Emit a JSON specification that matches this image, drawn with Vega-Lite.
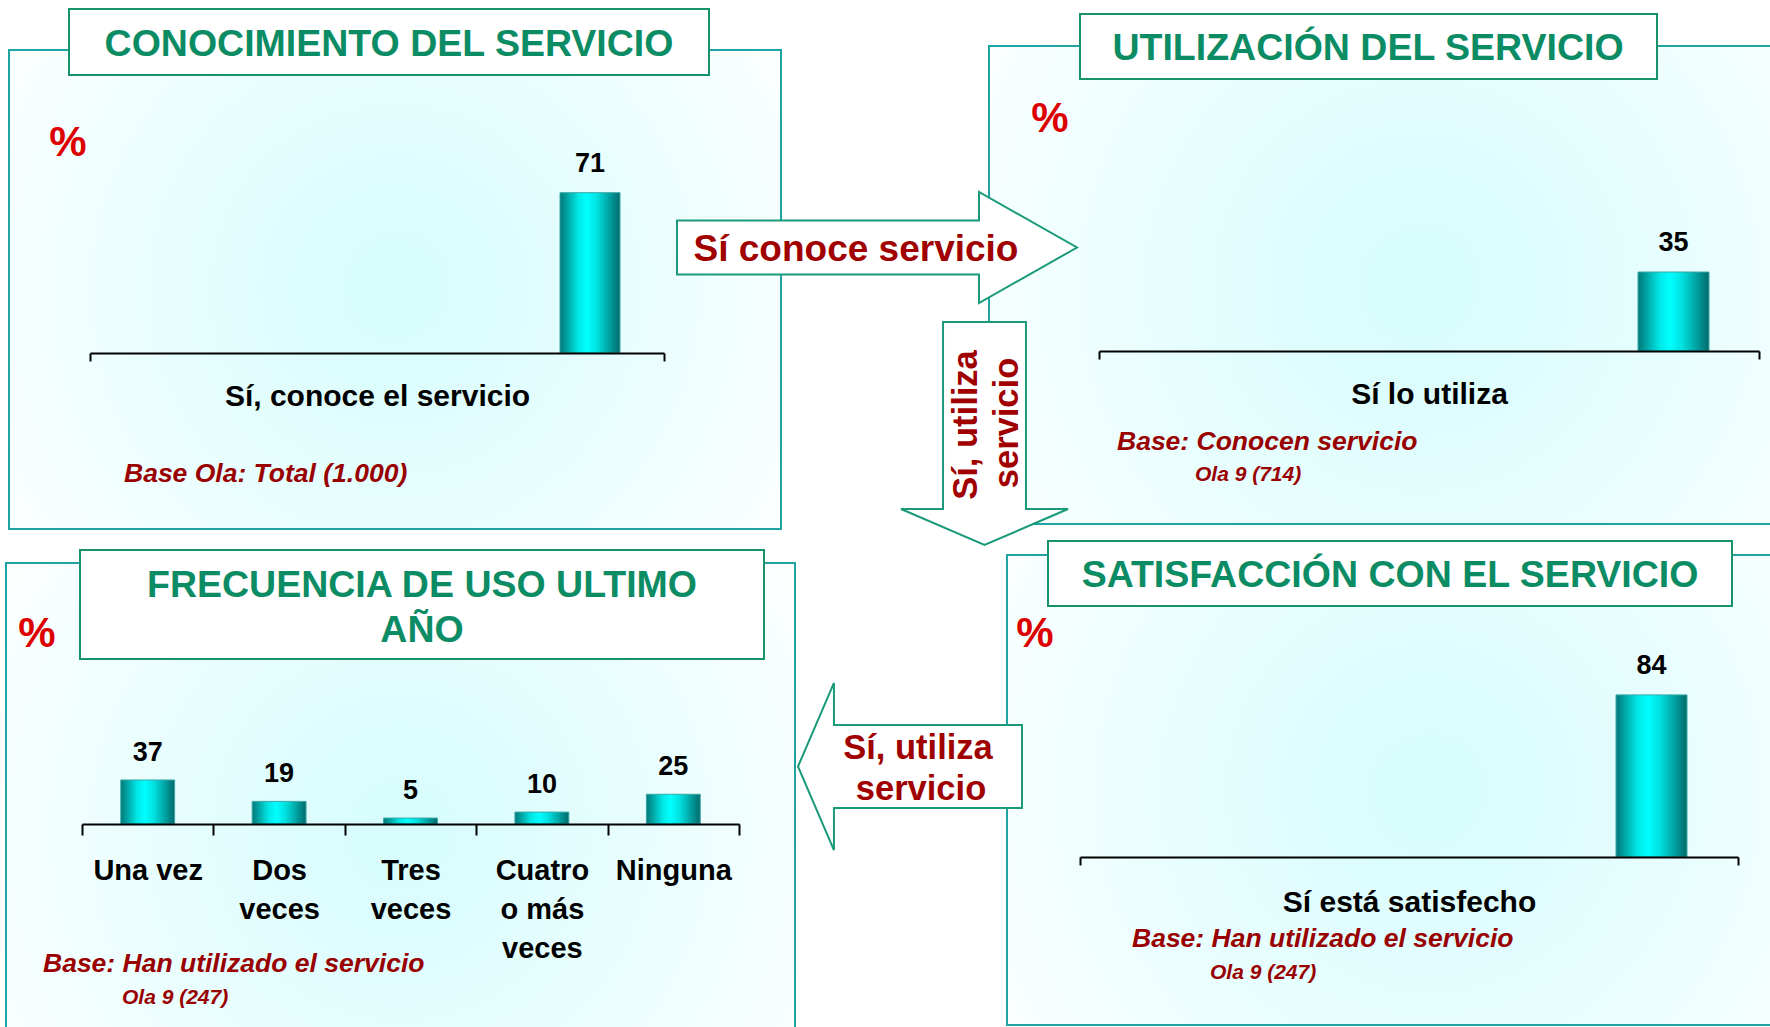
{
"$schema":"https://vega.github.io/schema/vega-lite/v6.json",
"width":1770,"height":1027,
"autosize":{"type":"fit","contains":"padding"},
"padding":0,
"background":"white",
"config":{"view":{"stroke":null},"font":"Liberation Sans",
 "axis":{"zindex":1,"domainColor":"black","domainWidth":2,"tickColor":"black","tickWidth":2,"labelColor":"black","labelFont":"Liberation Sans","labelFontWeight":"bold","labelAngle":0,"grid":false,"tickBand":"extent","labelOverlap":false,"labelBound":false,"labelFlush":false,"labelLimit":400}},
"datasets":{"barras":[
 {"panel":"conocimiento","categoria":"Sí, conoce el servicio","valor":71},
 {"panel":"utilizacion","categoria":"Sí lo utiliza","valor":35},
 {"panel":"frecuencia","categoria":"Una vez","valor":37},
 {"panel":"frecuencia","categoria":"Dos veces","valor":19},
 {"panel":"frecuencia","categoria":"Tres veces","valor":5},
 {"panel":"frecuencia","categoria":"Cuatro o más veces","valor":10},
 {"panel":"frecuencia","categoria":"Ninguna","valor":25},
 {"panel":"satisfaccion","categoria":"Sí está satisfecho","valor":84}
]},
"resolve":{"scale":{"x":"independent","y":"independent"}},
"layer":[
{"data":{"values":[{}]},
 "layer":[
  {"mark":{"type":"rect","fill":{"gradient":"radial","x1":0.5,"y1":0.5,"r1":0,"x2":0.5,"y2":0.5,"r2":0.62,"stops":[{"offset":0,"color":"#d6fcfc"},{"offset":0.5,"color":"#e8fefe"},{"offset":1,"color":"#ffffff"}]},"stroke":"#1fa3a3","strokeWidth":2},
   "encoding":{"x":{"datum":9,"type":"quantitative","scale":{"domain":[0,1770],"nice":false,"zero":false},"axis":null},"x2":{"datum":781},"y":{"datum":50,"type":"quantitative","scale":{"domain":[0,1027],"nice":false,"zero":false,"reverse":true},"axis":null},"y2":{"datum":529}}},
  {"mark":{"type":"rect","clip":true,"fill":{"gradient":"radial","x1":0.5,"y1":0.5,"r1":0,"x2":0.5,"y2":0.5,"r2":0.62,"stops":[{"offset":0,"color":"#d6fcfc"},{"offset":0.5,"color":"#e8fefe"},{"offset":1,"color":"#ffffff"}]},"stroke":"#1fa3a3","strokeWidth":2},
   "encoding":{"x":{"datum":989,"type":"quantitative","scale":{"domain":[0,1770],"nice":false,"zero":false},"axis":null},"x2":{"datum":1850},"y":{"datum":46,"type":"quantitative","scale":{"domain":[0,1027],"nice":false,"zero":false,"reverse":true},"axis":null},"y2":{"datum":524}}},
  {"mark":{"type":"rect","clip":true,"fill":{"gradient":"radial","x1":0.5,"y1":0.5,"r1":0,"x2":0.5,"y2":0.5,"r2":0.62,"stops":[{"offset":0,"color":"#d6fcfc"},{"offset":0.5,"color":"#e8fefe"},{"offset":1,"color":"#ffffff"}]},"stroke":"#1fa3a3","strokeWidth":2},
   "encoding":{"x":{"datum":6,"type":"quantitative","scale":{"domain":[0,1770],"nice":false,"zero":false},"axis":null},"x2":{"datum":795},"y":{"datum":563,"type":"quantitative","scale":{"domain":[0,1027],"nice":false,"zero":false,"reverse":true},"axis":null},"y2":{"datum":1100}}},
  {"mark":{"type":"rect","clip":true,"fill":{"gradient":"radial","x1":0.5,"y1":0.5,"r1":0,"x2":0.5,"y2":0.5,"r2":0.62,"stops":[{"offset":0,"color":"#d6fcfc"},{"offset":0.5,"color":"#e8fefe"},{"offset":1,"color":"#ffffff"}]},"stroke":"#1fa3a3","strokeWidth":2},
   "encoding":{"x":{"datum":1007,"type":"quantitative","scale":{"domain":[0,1770],"nice":false,"zero":false},"axis":null},"x2":{"datum":1850},"y":{"datum":555,"type":"quantitative","scale":{"domain":[0,1027],"nice":false,"zero":false,"reverse":true},"axis":null},"y2":{"datum":1025}}},
  {"mark":{"type":"rect","fill":"white","stroke":"#17936b","strokeWidth":2},
   "encoding":{"x":{"datum":69,"type":"quantitative","scale":{"domain":[0,1770],"nice":false,"zero":false},"axis":null},"x2":{"datum":709},"y":{"datum":9,"type":"quantitative","scale":{"domain":[0,1027],"nice":false,"zero":false,"reverse":true},"axis":null},"y2":{"datum":75}}},
  {"mark":{"type":"rect","fill":"white","stroke":"#17936b","strokeWidth":2},
   "encoding":{"x":{"datum":1080,"type":"quantitative","scale":{"domain":[0,1770],"nice":false,"zero":false},"axis":null},"x2":{"datum":1657},"y":{"datum":14,"type":"quantitative","scale":{"domain":[0,1027],"nice":false,"zero":false,"reverse":true},"axis":null},"y2":{"datum":79}}},
  {"mark":{"type":"rect","fill":"white","stroke":"#17936b","strokeWidth":2},
   "encoding":{"x":{"datum":80,"type":"quantitative","scale":{"domain":[0,1770],"nice":false,"zero":false},"axis":null},"x2":{"datum":764},"y":{"datum":550,"type":"quantitative","scale":{"domain":[0,1027],"nice":false,"zero":false,"reverse":true},"axis":null},"y2":{"datum":659}}},
  {"mark":{"type":"rect","fill":"white","stroke":"#17936b","strokeWidth":2},
   "encoding":{"x":{"datum":1048,"type":"quantitative","scale":{"domain":[0,1770],"nice":false,"zero":false},"axis":null},"x2":{"datum":1732},"y":{"datum":541,"type":"quantitative","scale":{"domain":[0,1027],"nice":false,"zero":false,"reverse":true},"axis":null},"y2":{"datum":606}}},
  {"mark":{"type":"text","text":"CONOCIMIENTO DEL SERVICIO","fontSize":37.5,"fontWeight":"bold","color":"#0c8c64","align":"center","baseline":"middle"},
   "encoding":{"x":{"datum":389,"type":"quantitative","scale":{"domain":[0,1770],"nice":false,"zero":false},"axis":null},"y":{"datum":45,"type":"quantitative","scale":{"domain":[0,1027],"nice":false,"zero":false,"reverse":true},"axis":null}}},
  {"mark":{"type":"text","text":"UTILIZACIÓN DEL SERVICIO","fontSize":37.5,"fontWeight":"bold","color":"#0c8c64","align":"center","baseline":"middle"},
   "encoding":{"x":{"datum":1368,"type":"quantitative","scale":{"domain":[0,1770],"nice":false,"zero":false},"axis":null},"y":{"datum":49,"type":"quantitative","scale":{"domain":[0,1027],"nice":false,"zero":false,"reverse":true},"axis":null}}},
  {"mark":{"type":"text","text":"FRECUENCIA DE USO ULTIMO","fontSize":37.5,"fontWeight":"bold","color":"#0c8c64","align":"center","baseline":"middle"},
   "encoding":{"x":{"datum":422,"type":"quantitative","scale":{"domain":[0,1770],"nice":false,"zero":false},"axis":null},"y":{"datum":586,"type":"quantitative","scale":{"domain":[0,1027],"nice":false,"zero":false,"reverse":true},"axis":null}}},
  {"mark":{"type":"text","text":"AÑO","fontSize":37.5,"fontWeight":"bold","color":"#0c8c64","align":"center","baseline":"middle"},
   "encoding":{"x":{"datum":422,"type":"quantitative","scale":{"domain":[0,1770],"nice":false,"zero":false},"axis":null},"y":{"datum":631,"type":"quantitative","scale":{"domain":[0,1027],"nice":false,"zero":false,"reverse":true},"axis":null}}},
  {"mark":{"type":"text","text":"SATISFACCIÓN CON EL SERVICIO","fontSize":37.5,"fontWeight":"bold","color":"#0c8c64","align":"center","baseline":"middle"},
   "encoding":{"x":{"datum":1390,"type":"quantitative","scale":{"domain":[0,1770],"nice":false,"zero":false},"axis":null},"y":{"datum":576,"type":"quantitative","scale":{"domain":[0,1027],"nice":false,"zero":false,"reverse":true},"axis":null}}},
  {"mark":{"type":"text","text":"%","fontSize":42,"fontWeight":"bold","color":"#dd0000","align":"center","baseline":"middle"},
   "encoding":{"x":{"datum":68,"type":"quantitative","scale":{"domain":[0,1770],"nice":false,"zero":false},"axis":null},"y":{"datum":143,"type":"quantitative","scale":{"domain":[0,1027],"nice":false,"zero":false,"reverse":true},"axis":null}}},
  {"mark":{"type":"text","text":"%","fontSize":42,"fontWeight":"bold","color":"#dd0000","align":"center","baseline":"middle"},
   "encoding":{"x":{"datum":1050,"type":"quantitative","scale":{"domain":[0,1770],"nice":false,"zero":false},"axis":null},"y":{"datum":119,"type":"quantitative","scale":{"domain":[0,1027],"nice":false,"zero":false,"reverse":true},"axis":null}}},
  {"mark":{"type":"text","text":"%","fontSize":42,"fontWeight":"bold","color":"#dd0000","align":"center","baseline":"middle"},
   "encoding":{"x":{"datum":37,"type":"quantitative","scale":{"domain":[0,1770],"nice":false,"zero":false},"axis":null},"y":{"datum":634,"type":"quantitative","scale":{"domain":[0,1027],"nice":false,"zero":false,"reverse":true},"axis":null}}},
  {"mark":{"type":"text","text":"%","fontSize":42,"fontWeight":"bold","color":"#dd0000","align":"center","baseline":"middle"},
   "encoding":{"x":{"datum":1035,"type":"quantitative","scale":{"domain":[0,1770],"nice":false,"zero":false},"axis":null},"y":{"datum":634,"type":"quantitative","scale":{"domain":[0,1027],"nice":false,"zero":false,"reverse":true},"axis":null}}},
  {"mark":{"type":"text","text":"Base Ola: Total (1.000)","fontSize":26.5,"fontWeight":"bold","fontStyle":"italic","color":"#990000","align":"left","baseline":"middle"},
   "encoding":{"x":{"datum":124,"type":"quantitative","scale":{"domain":[0,1770],"nice":false,"zero":false},"axis":null},"y":{"datum":474,"type":"quantitative","scale":{"domain":[0,1027],"nice":false,"zero":false,"reverse":true},"axis":null}}},
  {"mark":{"type":"text","text":"Base: Conocen servicio","fontSize":26.5,"fontWeight":"bold","fontStyle":"italic","color":"#990000","align":"left","baseline":"middle"},
   "encoding":{"x":{"datum":1117,"type":"quantitative","scale":{"domain":[0,1770],"nice":false,"zero":false},"axis":null},"y":{"datum":442,"type":"quantitative","scale":{"domain":[0,1027],"nice":false,"zero":false,"reverse":true},"axis":null}}},
  {"mark":{"type":"text","text":"Ola 9 (714)","fontSize":21,"fontWeight":"bold","fontStyle":"italic","color":"#990000","align":"left","baseline":"middle"},
   "encoding":{"x":{"datum":1195,"type":"quantitative","scale":{"domain":[0,1770],"nice":false,"zero":false},"axis":null},"y":{"datum":475,"type":"quantitative","scale":{"domain":[0,1027],"nice":false,"zero":false,"reverse":true},"axis":null}}},
  {"mark":{"type":"text","text":"Base: Han utilizado el servicio","fontSize":26.5,"fontWeight":"bold","fontStyle":"italic","color":"#990000","align":"left","baseline":"middle"},
   "encoding":{"x":{"datum":43,"type":"quantitative","scale":{"domain":[0,1770],"nice":false,"zero":false},"axis":null},"y":{"datum":964,"type":"quantitative","scale":{"domain":[0,1027],"nice":false,"zero":false,"reverse":true},"axis":null}}},
  {"mark":{"type":"text","text":"Ola 9 (247)","fontSize":21,"fontWeight":"bold","fontStyle":"italic","color":"#990000","align":"left","baseline":"middle"},
   "encoding":{"x":{"datum":122,"type":"quantitative","scale":{"domain":[0,1770],"nice":false,"zero":false},"axis":null},"y":{"datum":998,"type":"quantitative","scale":{"domain":[0,1027],"nice":false,"zero":false,"reverse":true},"axis":null}}},
  {"mark":{"type":"text","text":"Base: Han utilizado el servicio","fontSize":26.5,"fontWeight":"bold","fontStyle":"italic","color":"#990000","align":"left","baseline":"middle"},
   "encoding":{"x":{"datum":1132,"type":"quantitative","scale":{"domain":[0,1770],"nice":false,"zero":false},"axis":null},"y":{"datum":939,"type":"quantitative","scale":{"domain":[0,1027],"nice":false,"zero":false,"reverse":true},"axis":null}}},
  {"mark":{"type":"text","text":"Ola 9 (247)","fontSize":21,"fontWeight":"bold","fontStyle":"italic","color":"#990000","align":"left","baseline":"middle"},
   "encoding":{"x":{"datum":1210,"type":"quantitative","scale":{"domain":[0,1770],"nice":false,"zero":false},"axis":null},"y":{"datum":973,"type":"quantitative","scale":{"domain":[0,1027],"nice":false,"zero":false,"reverse":true},"axis":null}}}
 ]},
{"data":{"name":"barras"},"transform":[{"filter":"datum.panel == 'conocimiento'"}],
 "mark":{"type":"bar","opacity":0},
 "encoding":{"x":{"field":"categoria","type":"nominal","scale":{"range":[90,664],"paddingInner":0,"paddingOuter":0},"axis":{"zindex":2,"orient":"bottom","offset":-674,"title":null,"tickSize":8,"labelPadding":20,"labelFontSize":30}}}},
{"data":{"name":"barras"},"transform":[{"filter":"datum.panel == 'conocimiento'"}],
 "encoding":{"x":{"field":"categoria","type":"nominal","scale":{"range":[560,620],"paddingInner":0,"paddingOuter":0},"axis":null},
  "y":{"field":"valor","type":"quantitative","scale":{"domain":[0,100],"range":[353,127.2],"nice":false},"axis":null}},
 "layer":[
  {"mark":{"type":"bar","stroke":"#3aa8a8","strokeWidth":1,"fill":{"gradient":"linear","x1":0,"y1":0,"x2":1,"y2":0,"stops":[{"offset":0,"color":"#007878"},{"offset":0.3,"color":"#00e6e6"},{"offset":0.45,"color":"#00ffff"},{"offset":0.62,"color":"#00e0e0"},{"offset":1,"color":"#006a6a"}]}}},
  {"mark":{"type":"text","baseline":"alphabetic","dy":-21,"fontSize":27,"fontWeight":"bold","color":"black"},"encoding":{"text":{"field":"valor","type":"quantitative"}}}
 ]},
{"data":{"name":"barras"},"transform":[{"filter":"datum.panel == 'utilizacion'"}],
 "mark":{"type":"bar","opacity":0},
 "encoding":{"x":{"field":"categoria","type":"nominal","scale":{"range":[1099,1759],"paddingInner":0,"paddingOuter":0},"axis":{"zindex":2,"orient":"bottom","offset":-676,"title":null,"tickSize":8,"labelPadding":20,"labelFontSize":30}}}},
{"data":{"name":"barras"},"transform":[{"filter":"datum.panel == 'utilizacion'"}],
 "encoding":{"x":{"field":"categoria","type":"nominal","scale":{"range":[1638,1709],"paddingInner":0,"paddingOuter":0},"axis":null},
  "y":{"field":"valor","type":"quantitative","scale":{"domain":[0,100],"range":[351,125.3],"nice":false},"axis":null}},
 "layer":[
  {"mark":{"type":"bar","stroke":"#3aa8a8","strokeWidth":1,"fill":{"gradient":"linear","x1":0,"y1":0,"x2":1,"y2":0,"stops":[{"offset":0,"color":"#007878"},{"offset":0.3,"color":"#00e6e6"},{"offset":0.45,"color":"#00ffff"},{"offset":0.62,"color":"#00e0e0"},{"offset":1,"color":"#006a6a"}]}}},
  {"mark":{"type":"text","baseline":"alphabetic","dy":-21,"fontSize":27,"fontWeight":"bold","color":"black"},"encoding":{"text":{"field":"valor","type":"quantitative"}}}
 ]},
{"data":{"name":"barras"},"transform":[{"filter":"datum.panel == 'frecuencia'"}],
 "encoding":{"x":{"field":"categoria","type":"nominal","sort":null,"scale":{"range":[82,739],"paddingInner":0,"paddingOuter":0},"axis":{"zindex":2,"orient":"bottom","offset":-203,"title":null,"tickSize":11,"labelPadding":21,"labelFontSize":29,"labelLineHeight":39,"labelExpr":"isValid(datum.value) ? (datum.value == 'Cuatro o más veces' ? ['Cuatro', 'o más', 'veces'] : (datum.value == 'Una vez' ? 'Una vez' : split(datum.value, ' '))) : ''"}},
  "y":{"field":"valor","type":"quantitative","scale":{"domain":[0,100],"range":[824,705],"nice":false},"axis":null}},
 "layer":[
  {"mark":{"type":"bar","width":{"band":0.41},"stroke":"#3aa8a8","strokeWidth":1,"fill":{"gradient":"linear","x1":0,"y1":0,"x2":1,"y2":0,"stops":[{"offset":0,"color":"#007878"},{"offset":0.3,"color":"#00e6e6"},{"offset":0.45,"color":"#00ffff"},{"offset":0.62,"color":"#00e0e0"},{"offset":1,"color":"#006a6a"}]}}},
  {"mark":{"type":"text","baseline":"alphabetic","dy":-19,"fontSize":27,"fontWeight":"bold","color":"black"},"encoding":{"text":{"field":"valor","type":"quantitative"}}}
 ]},
{"data":{"name":"barras"},"transform":[{"filter":"datum.panel == 'satisfaccion'"}],
 "mark":{"type":"bar","opacity":0},
 "encoding":{"x":{"field":"categoria","type":"nominal","scale":{"range":[1080,1738],"paddingInner":0,"paddingOuter":0},"axis":{"zindex":2,"orient":"bottom","offset":-170,"title":null,"tickSize":8,"labelPadding":22,"labelFontSize":30}}}},
{"data":{"name":"barras"},"transform":[{"filter":"datum.panel == 'satisfaccion'"}],
 "encoding":{"x":{"field":"categoria","type":"nominal","scale":{"range":[1616,1687],"paddingInner":0,"paddingOuter":0},"axis":null},
  "y":{"field":"valor","type":"quantitative","scale":{"domain":[0,100],"range":[857,664],"nice":false},"axis":null}},
 "layer":[
  {"mark":{"type":"bar","stroke":"#3aa8a8","strokeWidth":1,"fill":{"gradient":"linear","x1":0,"y1":0,"x2":1,"y2":0,"stops":[{"offset":0,"color":"#007878"},{"offset":0.3,"color":"#00e6e6"},{"offset":0.45,"color":"#00ffff"},{"offset":0.62,"color":"#00e0e0"},{"offset":1,"color":"#006a6a"}]}}},
  {"mark":{"type":"text","baseline":"alphabetic","dy":-21,"fontSize":27,"fontWeight":"bold","color":"black"},"encoding":{"text":{"field":"valor","type":"quantitative"}}}
 ]},
{"data":{"values":[{}]},
 "layer":[
  {"mark":{"type":"point","shape":"M-1,-0.135L0.51,-0.135L0.51,-0.2775L1,0L0.51,0.2775L0.51,0.135L-1,0.135Z","size":160000,"filled":true,"fill":"white","stroke":"#1a9a7a","strokeWidth":2,"opacity":1,"fillOpacity":1,"strokeOpacity":1},
   "encoding":{"x":{"datum":877,"type":"quantitative","scale":{"domain":[0,1770],"nice":false,"zero":false},"axis":null},"y":{"datum":247.5,"type":"quantitative","scale":{"domain":[0,1027],"nice":false,"zero":false,"reverse":true},"axis":null}}},
  {"mark":{"type":"point","shape":"M-0.372,-1L0.372,-1L0.372,0.677L0.749,0.677L0,1L-0.749,0.677L-0.372,0.677Z","size":49729,"filled":true,"fill":"white","stroke":"#1a9a7a","strokeWidth":2,"opacity":1,"fillOpacity":1,"strokeOpacity":1},
   "encoding":{"x":{"datum":984.5,"type":"quantitative","scale":{"domain":[0,1770],"nice":false,"zero":false},"axis":null},"y":{"datum":433.5,"type":"quantitative","scale":{"domain":[0,1027],"nice":false,"zero":false,"reverse":true},"axis":null}}},
  {"mark":{"type":"point","shape":"M1,-0.371L-0.679,-0.371L-0.679,-0.746L-1,0L-0.679,0.746L-0.679,0.371L1,0.371Z","size":50176,"filled":true,"fill":"white","stroke":"#1a9a7a","strokeWidth":2,"opacity":1,"fillOpacity":1,"strokeOpacity":1},
   "encoding":{"x":{"datum":910,"type":"quantitative","scale":{"domain":[0,1770],"nice":false,"zero":false},"axis":null},"y":{"datum":766.5,"type":"quantitative","scale":{"domain":[0,1027],"nice":false,"zero":false,"reverse":true},"axis":null}}},
  {"mark":{"type":"text","text":"Sí conoce servicio","fontSize":37,"fontWeight":"bold","color":"#a00000","align":"center","baseline":"middle"},
   "encoding":{"x":{"datum":856,"type":"quantitative","scale":{"domain":[0,1770],"nice":false,"zero":false},"axis":null},"y":{"datum":250,"type":"quantitative","scale":{"domain":[0,1027],"nice":false,"zero":false,"reverse":true},"axis":null}}},
  {"mark":{"type":"text","text":"Sí, utiliza","angle":270,"fontSize":34.5,"fontWeight":"bold","color":"#a00000","align":"center","baseline":"middle"},
   "encoding":{"x":{"datum":967,"type":"quantitative","scale":{"domain":[0,1770],"nice":false,"zero":false},"axis":null},"y":{"datum":425,"type":"quantitative","scale":{"domain":[0,1027],"nice":false,"zero":false,"reverse":true},"axis":null}}},
  {"mark":{"type":"text","text":"servicio","angle":270,"fontSize":34.5,"fontWeight":"bold","color":"#a00000","align":"center","baseline":"middle"},
   "encoding":{"x":{"datum":1008,"type":"quantitative","scale":{"domain":[0,1770],"nice":false,"zero":false},"axis":null},"y":{"datum":423,"type":"quantitative","scale":{"domain":[0,1027],"nice":false,"zero":false,"reverse":true},"axis":null}}},
  {"mark":{"type":"text","text":"Sí, utiliza","fontSize":34.5,"fontWeight":"bold","color":"#a00000","align":"center","baseline":"middle"},
   "encoding":{"x":{"datum":918,"type":"quantitative","scale":{"domain":[0,1770],"nice":false,"zero":false},"axis":null},"y":{"datum":749,"type":"quantitative","scale":{"domain":[0,1027],"nice":false,"zero":false,"reverse":true},"axis":null}}},
  {"mark":{"type":"text","text":"servicio","fontSize":34.5,"fontWeight":"bold","color":"#a00000","align":"center","baseline":"middle"},
   "encoding":{"x":{"datum":921,"type":"quantitative","scale":{"domain":[0,1770],"nice":false,"zero":false},"axis":null},"y":{"datum":790,"type":"quantitative","scale":{"domain":[0,1027],"nice":false,"zero":false,"reverse":true},"axis":null}}}
 ]}
]
}
